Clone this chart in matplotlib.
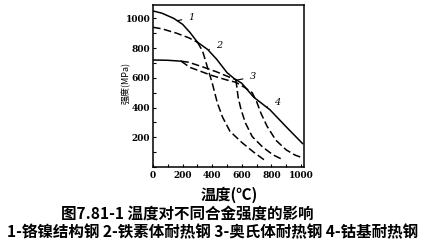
import matplotlib
matplotlib.use("Agg")
import matplotlib.pyplot as plt
from matplotlib.ticker import MultipleLocator

plt.rcParams['font.family'] = ['Noto Sans CJK SC', 'DejaVu Sans']

# curve 1: Cr-Ni structural steel (solid, then dashed drop)
c1_x = [0, 60, 140, 200, 250, 300, 335, 365, 400, 435, 470, 520, 600, 680, 755]
c1_y = [1050, 1035, 1000, 960, 905, 840, 780, 680, 565, 430, 335, 240, 165, 100, 45]
c1_split = 300

# curve 2: ferritic heat-resistant steel (dashed, solid middle, dashed drop)
c2_x = [0, 60, 160, 240, 300, 370, 430, 500, 560, 575, 595, 625, 670, 740, 810, 880]
c2_y = [940, 930, 900, 870, 840, 790, 725, 635, 585, 470, 385, 295, 205, 135, 82, 48]
c2_split = (300, 560)

# curve 3: austenitic heat-resistant steel
c3_x = [0, 100, 190, 250, 300, 390, 500, 560, 620, 670, 700, 730, 770, 830, 900, 960, 1010]
c3_y = [720, 718, 712, 670, 652, 618, 585, 570, 535, 500, 440, 360, 275, 180, 115, 80, 62]
c3_split = (190, 670)

# curve 4: cobalt-based heat-resistant steel
c4_x = [190, 240, 340, 430, 520, 560, 600, 680, 790, 900, 1010]
c4_y = [712, 705, 672, 640, 603, 588, 563, 470, 385, 270, 158]
c4_split = 560

ticks = [0, 200, 400, 600, 800, 1000]

# curve label: (text, leader start, text position)
labels = [
    ("1", (165, 985), (262, 1003)),
    ("2", (378, 790), (447, 820)),
    ("3", (568, 585), (675, 606)),
    ("4", (770, 405), (838, 432)),
]


def piece(x, y, lo, hi):
    px, py = [], []
    for a, b in zip(x, y):
        if lo <= a <= hi:
            px.append(a)
            py.append(b)
    return px, py


fig = plt.figure(figsize=(4.3, 2.47), dpi=100)
ax = fig.add_axes([153 / 430, 80 / 247, 151 / 430, 162 / 247])

kw = dict(color="black", lw=1.1)
dash = dict(color="black", lw=1.1, dashes=(5, 2.2))

# 1
ax.plot(*piece(c1_x, c1_y, 0, c1_split), **kw)
ax.plot(*piece(c1_x, c1_y, c1_split, 2000), **dash)
# 2
ax.plot(*piece(c2_x, c2_y, 0, c2_split[0]), **dash)
ax.plot(*piece(c2_x, c2_y, c2_split[0], c2_split[1]), **kw)
ax.plot(*piece(c2_x, c2_y, c2_split[1], 2000), **dash)
# 3
ax.plot(*piece(c3_x, c3_y, 0, c3_split[0]), **kw)
ax.plot(*piece(c3_x, c3_y, c3_split[0], 2000), **dash)
# 4
ax.plot(*piece(c4_x, c4_y, 0, c4_split), **dash)
ax.plot(*piece(c4_x, c4_y, c4_split, 2000), **kw)

for txt, p0, p1 in labels:
    ax.annotate(txt, xy=p0, xytext=p1, fontsize=7, fontstyle="italic",
                family="DejaVu Serif", ha="center", va="center",
                arrowprops=dict(arrowstyle="-", lw=0.8, color="black",
                                shrinkB=0, shrinkA=3))

ax.set_xlim(0, 1020)
ax.set_ylim(0, 1090)
ax.set_xticks(ticks)
ax.set_xticklabels([str(t) for t in ticks])
ax.set_yticks(ticks[1:])
ax.set_yticklabels([str(t) for t in ticks[1:]])
ax.xaxis.set_minor_locator(MultipleLocator(100))
ax.yaxis.set_minor_locator(MultipleLocator(100))
ax.tick_params(which="both", direction="in", length=2.5, width=0.8)
ax.tick_params(labelsize=6.5, pad=3)
ax.tick_params(axis="y", pad=2)
for lab in ax.get_xticklabels() + ax.get_yticklabels():
    lab.set_fontweight("bold")
    lab.set_family("DejaVu Serif")
for s in ax.spines.values():
    s.set_linewidth(1.1)

ax.set_ylabel("强度(MPa)", fontsize=6.5)
ax.yaxis.set_label_coords(-0.15, 0.52)

fig.text(229 / 430, 1 - 195 / 247, "温度(℃)", fontsize=11, fontweight="bold",
         ha="center", va="center")
fig.text(187.5 / 430, 1 - 213.5 / 247, "图7.81-1 温度对不同合金强度的影响",
         fontsize=11.2, fontweight="bold", ha="center", va="center")
fig.text(212.5 / 430, 1 - 232.5 / 247,
         "1-铬镍结构钢 2-铁素体耐热钢 3-奥氏体耐热钢 4-钴基耐热钢",
         fontsize=11.2, fontweight="bold", ha="center", va="center")

fig.savefig("out.png", dpi=100)
